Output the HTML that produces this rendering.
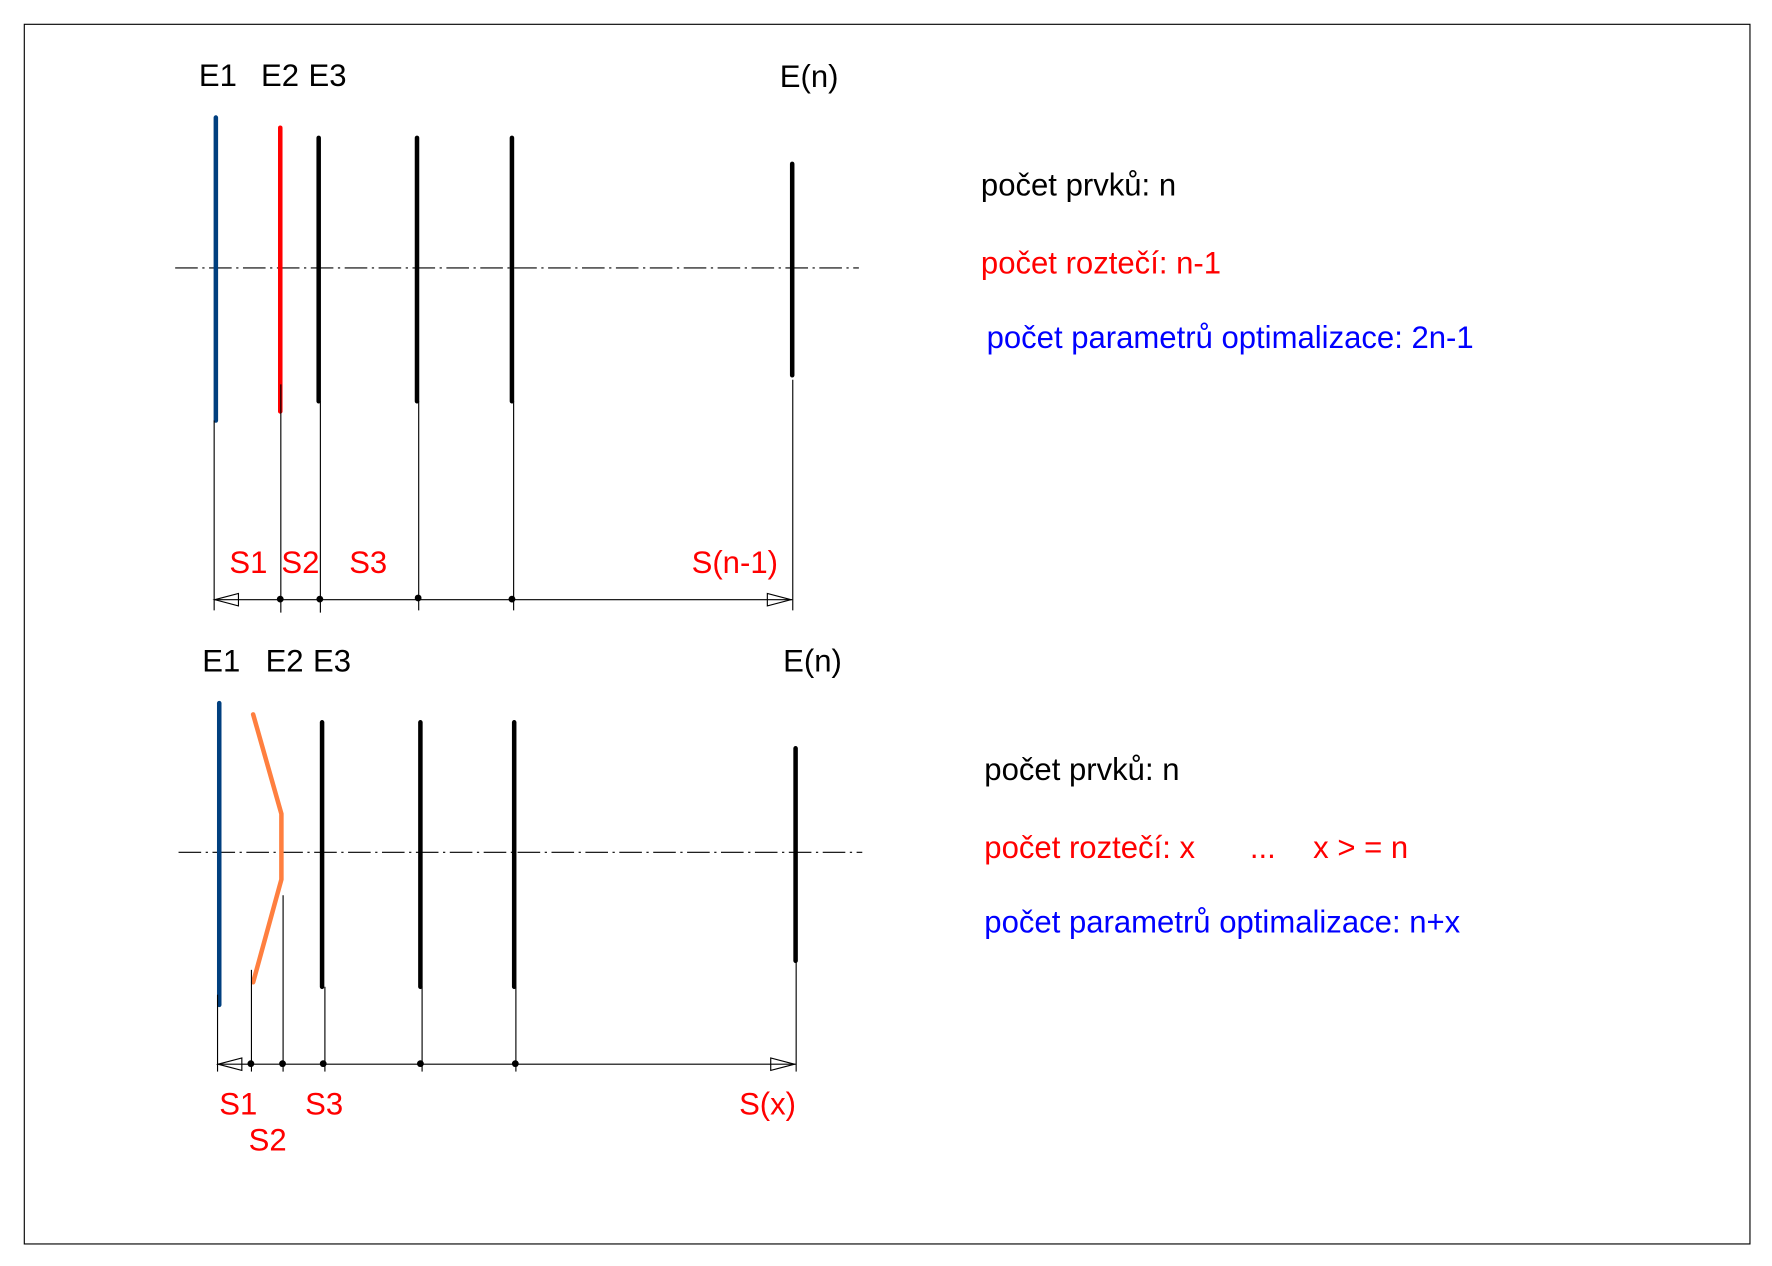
<!DOCTYPE html>
<html><head><meta charset="utf-8"><style>
html,body{margin:0;padding:0;background:#fff;width:1772px;height:1266px;overflow:hidden}
svg{display:block}
text{font-family:"Liberation Sans",Arial,sans-serif;font-size:27.5px}
</style></head><body>
<svg width="1772" height="1266" viewBox="0 0 1568 1120" preserveAspectRatio="none">
<rect x="21.5" y="21.5" width="1527" height="1079" fill="none" stroke="#000" stroke-width="1"/>
<!-- TOP -->
<g fill="#000">
<text x="176" y="76">E1</text><text x="231" y="76">E2</text><text x="273" y="76">E3</text><text x="690" y="77">E(n)</text>
<text x="868" y="173">počet prvků: n</text>
</g>
<text x="868" y="242" fill="#f00">počet roztečí: n-1</text>
<text x="873" y="308" fill="#00f">počet parametrů optimalizace: 2n-1</text>
<line x1="155" y1="237" x2="760" y2="237" stroke="#000" stroke-width="1" stroke-dasharray="20,4,2,4"/>
<g stroke-linecap="round">
<line x1="191" y1="104" x2="191" y2="372" stroke="#003f7f" stroke-width="4"/>
<line x1="248" y1="113" x2="248" y2="364" stroke="#f00" stroke-width="4"/>
<line x1="282" y1="122" x2="282" y2="355" stroke="#000" stroke-width="4"/>
<line x1="369" y1="122" x2="369" y2="355" stroke="#000" stroke-width="4"/>
<line x1="453" y1="122" x2="453" y2="355" stroke="#000" stroke-width="4"/>
<line x1="701" y1="145" x2="701" y2="332" stroke="#000" stroke-width="4"/>
</g>
<g stroke="#000" stroke-width="1" fill="none">
<line x1="189.5" y1="372" x2="189.5" y2="540"/>
<line x1="248.5" y1="340" x2="248.5" y2="542"/>
<line x1="283.5" y1="355" x2="283.5" y2="542"/>
<line x1="370.5" y1="355" x2="370.5" y2="540"/>
<line x1="454.5" y1="355" x2="454.5" y2="540"/>
<line x1="701.5" y1="336" x2="701.5" y2="540"/>
<line x1="189" y1="530.5" x2="701" y2="530.5"/>
<path d="M190 530.5 L211 525 L211 536 Z"/>
<path d="M700 530.5 L679 525 L679 536 Z"/>
</g>
<g fill="#000"><circle cx="248" cy="530" r="3"/><circle cx="283" cy="530" r="3"/><circle cx="370" cy="529" r="3"/><circle cx="453" cy="530" r="3"/></g>
<g fill="#f00"><text x="203" y="507">S1</text><text x="249" y="507">S2</text><text x="309" y="507">S3</text><text x="612" y="507">S(n-1)</text></g>
<!-- BOTTOM -->
<g fill="#000">
<text x="179" y="594">E1</text><text x="235" y="594">E2</text><text x="277" y="594">E3</text><text x="693" y="594">E(n)</text>
<text x="871" y="690">počet prvků: n</text>
</g>
<text x="871" y="759" fill="#f00">počet roztečí: x</text>
<text x="1106" y="759" fill="#f00">...</text>
<text x="1162" y="759" fill="#f00">x &gt; = n</text>
<text x="871" y="825" fill="#00f">počet parametrů optimalizace: n+x</text>
<line x1="158" y1="754" x2="763" y2="754" stroke="#000" stroke-width="1" stroke-dasharray="20,4,2,4"/>
<g stroke-linecap="round">
<line x1="194" y1="622" x2="194" y2="889" stroke="#003f7f" stroke-width="4"/>
<polyline points="224,632 249,720 249,778 224,869" fill="none" stroke="#ff7f3f" stroke-width="4" stroke-linejoin="miter" stroke-linecap="round"/>
<line x1="285" y1="639" x2="285" y2="873" stroke="#000" stroke-width="4"/>
<line x1="372" y1="639" x2="372" y2="873" stroke="#000" stroke-width="4"/>
<line x1="455" y1="639" x2="455" y2="873" stroke="#000" stroke-width="4"/>
<line x1="704" y1="662" x2="704" y2="850" stroke="#000" stroke-width="4"/>
</g>
<g stroke="#000" stroke-width="1" fill="none">
<line x1="192.5" y1="880" x2="192.5" y2="948"/>
<line x1="222.5" y1="858" x2="222.5" y2="948"/>
<line x1="250.5" y1="792" x2="250.5" y2="948"/>
<line x1="287.5" y1="873" x2="287.5" y2="948"/>
<line x1="373.5" y1="873" x2="373.5" y2="948"/>
<line x1="456.5" y1="873" x2="456.5" y2="948"/>
<line x1="704.5" y1="850" x2="704.5" y2="948"/>
<line x1="192" y1="941.5" x2="704" y2="941.5"/>
<path d="M193 941.5 L214 936 L214 947 Z"/>
<path d="M703 941.5 L682 936 L682 947 Z"/>
</g>
<g fill="#000"><circle cx="222" cy="941" r="3"/><circle cx="250" cy="941" r="3"/><circle cx="286" cy="941" r="3"/><circle cx="372" cy="941" r="3"/><circle cx="456" cy="941" r="3"/></g>
<g fill="#f00"><text x="194" y="986">S1</text><text x="270" y="986">S3</text><text x="220" y="1018">S2</text><text x="654" y="986">S(x)</text></g>
</svg>
</body></html>
